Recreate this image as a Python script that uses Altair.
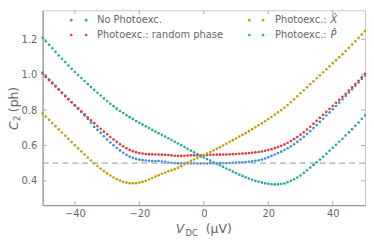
import altair as alt
import pandas as pd

# ---- data (V_DC in µV, C2 in ph) ----
v_dc = list(range(-50, 51))

no_photo = [1.012, 0.993, 0.974, 0.955, 0.937, 0.918, 0.899, 0.880, 0.862, 0.844,
            0.826, 0.808, 0.789, 0.770, 0.750, 0.728, 0.705, 0.688, 0.671, 0.652,
            0.634, 0.617, 0.601, 0.586, 0.572, 0.559, 0.547, 0.537, 0.530, 0.524,
            0.520, 0.517, 0.515, 0.513, 0.512, 0.511, 0.512, 0.509, 0.508, 0.504,
            0.502, 0.500, 0.499, 0.499, 0.500, 0.500, 0.499, 0.499, 0.498, 0.498,
            0.498, 0.498, 0.499, 0.499, 0.499, 0.500, 0.500, 0.500, 0.501, 0.502,
            0.503, 0.504, 0.505, 0.506, 0.508, 0.510, 0.513, 0.516, 0.520, 0.526,
            0.533, 0.541, 0.549, 0.557, 0.565, 0.574, 0.584, 0.595, 0.607, 0.620,
            0.634, 0.649, 0.665, 0.681, 0.698, 0.715, 0.733, 0.751, 0.769, 0.787,
            0.805, 0.823, 0.842, 0.861, 0.880, 0.899, 0.918, 0.937, 0.956, 0.976,
            0.996]

random_phase = [1.005, 0.987, 0.969, 0.951, 0.933, 0.915, 0.897, 0.879, 0.861, 0.844,
                0.827, 0.810, 0.793, 0.776, 0.759, 0.742, 0.726, 0.710, 0.694, 0.678,
                0.663, 0.648, 0.634, 0.620, 0.607, 0.595, 0.584, 0.575, 0.567, 0.561,
                0.557, 0.554, 0.552, 0.551, 0.550, 0.549, 0.549, 0.548, 0.547, 0.546,
                0.544, 0.542, 0.541, 0.541, 0.542, 0.543, 0.544, 0.544, 0.545, 0.545,
                0.545, 0.546, 0.547, 0.547, 0.548, 0.548, 0.549, 0.549, 0.550, 0.551,
                0.552, 0.553, 0.554, 0.555, 0.557, 0.559, 0.561, 0.563, 0.566, 0.570,
                0.574, 0.579, 0.585, 0.591, 0.598, 0.606, 0.615, 0.625, 0.636, 0.648,
                0.661, 0.675, 0.690, 0.706, 0.722, 0.739, 0.756, 0.773, 0.790, 0.807,
                0.824, 0.841, 0.858, 0.875, 0.892, 0.910, 0.928, 0.947, 0.966, 0.985,
                1.005]

x_hat = [0.781, 0.763, 0.745, 0.727, 0.709, 0.691, 0.673, 0.655, 0.637, 0.619,
         0.601, 0.583, 0.566, 0.549, 0.532, 0.515, 0.499, 0.484, 0.469, 0.455,
         0.442, 0.430, 0.419, 0.409, 0.401, 0.395, 0.390, 0.387, 0.386, 0.387,
         0.390, 0.394, 0.400, 0.408, 0.416, 0.424, 0.432, 0.440, 0.447, 0.454,
         0.460, 0.466, 0.474, 0.483, 0.494, 0.504, 0.513, 0.521, 0.529, 0.537,
         0.545, 0.554, 0.563, 0.572, 0.581, 0.590, 0.600, 0.610, 0.620, 0.630,
         0.640, 0.650, 0.660, 0.670, 0.681, 0.692, 0.703, 0.714, 0.725, 0.737,
         0.749, 0.761, 0.774, 0.787, 0.800, 0.813, 0.828, 0.844, 0.861, 0.878,
         0.895, 0.912, 0.929, 0.946, 0.963, 0.980, 0.997, 1.014, 1.031, 1.048,
         1.065, 1.082, 1.099, 1.116, 1.134, 1.152, 1.170, 1.189, 1.208, 1.227,
         1.246]

p_hat = [1.209, 1.189, 1.169, 1.149, 1.129, 1.109, 1.090, 1.071, 1.052, 1.033,
         1.015, 0.998, 0.981, 0.964, 0.947, 0.930, 0.914, 0.898, 0.882, 0.866,
         0.851, 0.836, 0.822, 0.808, 0.795, 0.783, 0.771, 0.760, 0.749, 0.738,
         0.728, 0.718, 0.708, 0.698, 0.688, 0.679, 0.669, 0.660, 0.650, 0.641,
         0.631, 0.621, 0.611, 0.601, 0.591, 0.581, 0.571, 0.561, 0.551, 0.541,
         0.532, 0.523, 0.514, 0.505, 0.497, 0.488, 0.479, 0.470, 0.461, 0.452,
         0.444, 0.436, 0.428, 0.420, 0.413, 0.406, 0.400, 0.395, 0.390, 0.386,
         0.383, 0.381, 0.380, 0.380, 0.382, 0.385, 0.392, 0.400, 0.409, 0.419,
         0.430, 0.445, 0.460, 0.475, 0.490, 0.505, 0.520, 0.536, 0.553, 0.570,
         0.587, 0.604, 0.621, 0.638, 0.656, 0.674, 0.692, 0.711, 0.730, 0.750,
         0.770]

series_names = ["No Photoexc.", "Photoexc.: random phase", "Photoexc.: X", "Photoexc.: P"]
series_colors = ["#3a8fdc", "#e2363a", "#c99a06", "#23aa98"]
series_values = [no_photo, random_phase, x_hat, p_hat]

x_ticks = [-40, -20, 0, 20, 40]
y_ticks = [0.4, 0.6, 0.8, 1.0, 1.2]
ref_level = 0.5

rows = []
for k, (name, vals) in enumerate(zip(series_names, series_values)):
    for x, c in zip(v_dc, vals):
        rows.append({"V": x, "C": c, "series": name, "k": k})
df = pd.DataFrame(rows)

W, H = 326, 197
FONT = "DejaVu Sans"
GREY = "#666666"

xscale = alt.Scale(domain=[-50, 50], nice=False, zero=False)
yscale = alt.Scale(domain=[0.263, 1.364], nice=False, zero=False)
xaxis = alt.Axis(values=x_ticks, format="d", tickSize=0, labelPadding=4, labelColor=GREY,
                 labelFontSize=10, labelFont=FONT, domainColor="#999999", domainWidth=1.2,
                 grid=False, title=None)
yaxis = alt.Axis(values=y_ticks, format=".1f", tickSize=0, labelPadding=6, labelColor=GREY,
                 labelFontSize=10, labelFont=FONT, domainColor="#999999", domainWidth=1.2,
                 grid=False, title=None)


def X(field):
    return alt.X(field, type="quantitative", scale=xscale, axis=xaxis)


def Y(field):
    return alt.Y(field, type="quantitative", scale=yscale, axis=yaxis)


color = alt.Color("series:N", scale=alt.Scale(domain=series_names, range=series_colors), legend=None)

points = alt.Chart(df).mark_circle(size=7, opacity=1).encode(
    x=X("V"), y=Y("C"), color=color, order=alt.Order("k:Q")
)

dash = alt.Chart(pd.DataFrame({"C": [ref_level]})).mark_rule(
    color="#aaaaaa", strokeDash=[6, 4], strokeWidth=1.2
).encode(y=Y("C"))

xt = pd.DataFrame({"V": x_ticks})
yt = pd.DataFrame({"C": y_ticks})
tick_style = dict(color="#aaaaaa", strokeWidth=1)
ticks = [
    alt.Chart(xt).mark_rule(**tick_style).encode(x=X("V"), y=alt.value(H), y2=alt.value(H - 4)),
    alt.Chart(xt).mark_rule(**tick_style).encode(x=X("V"), y=alt.value(0), y2=alt.value(4)),
    alt.Chart(yt).mark_rule(**tick_style).encode(y=Y("C"), x=alt.value(0), x2=alt.value(4)),
    alt.Chart(yt).mark_rule(**tick_style).encode(y=Y("C"), x=alt.value(W), x2=alt.value(W - 4)),
]

one = pd.DataFrame({"a": [0]})


def txt(text, x, y, size=10, italic=False, angle=0, baseline="middle", color=GREY):
    kw = dict(text=text, align="left", baseline=baseline, font=FONT, fontSize=size, color=color)
    if italic:
        kw["fontStyle"] = "italic"
    if angle:
        kw["angle"] = angle
    return alt.Chart(one).mark_text(**kw).encode(x=alt.value(x), y=alt.value(y))


def dot(x, y, c):
    return alt.Chart(one).mark_circle(size=7, opacity=1, color=c).encode(x=alt.value(x), y=alt.value(y))


legend = []
leg_pos = [(29, 44, 55, 10), (29, 44, 55, 25), (209, 223, 235, 10), (209, 223, 235, 25)]
leg_text = ["No Photoexc.", "Photoexc.: random phase", "Photoexc.: ", "Photoexc.: "]
for (d1, d2, tx, ty), c, t in zip(leg_pos, series_colors, leg_text):
    legend += [dot(d1, ty, c), dot(d2, ty, c), txt(t, tx, ty)]
legend += [txt("X\u0302", 291, 10, italic=True), txt("P\u0302", 291, 25, italic=True)]

titles = [
    txt("V", 135, 225, size=12, italic=True, baseline="alphabetic"),
    txt("DC", 144.5, 228, size=8.5, baseline="alphabetic"),
    txt("(\u03bcV)", 165, 225, size=12.5, baseline="alphabetic"),
    txt("C", -25, 121, size=12.5, italic=True, angle=270, baseline="alphabetic"),
    txt("2", -22.5, 112.3, size=9, angle=270, baseline="alphabetic"),
    txt("(ph)", -25, 103, size=12.5, angle=270, baseline="alphabetic"),
]

chart = alt.layer(points, dash, *ticks, *legend, *titles).properties(
    width=W, height=H,
    padding={"left": 35, "top": 1, "right": 1, "bottom": 34},
    autosize=alt.AutoSizeParams(type="none"),
).configure_view(stroke="#c8c8c8", strokeWidth=1)

chart.save("out.html", embed_options={"renderer": "svg", "actions": False})
